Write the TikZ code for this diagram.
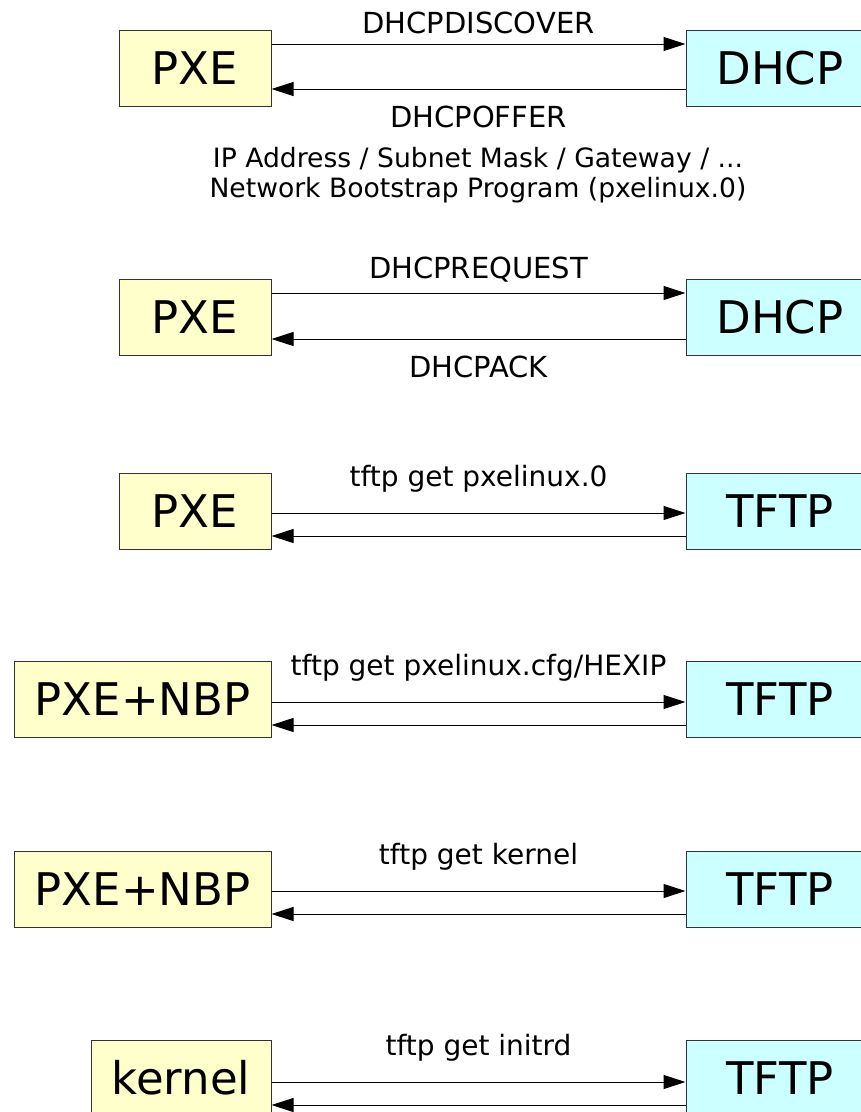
\documentclass[tikz,border=0pt]{standalone}
\usepackage{fontspec}
\setmainfont{DejaVu Sans}
\usetikzlibrary{arrows.meta}
\definecolor{cliyel}{HTML}{FFFFCC}
\definecolor{srvcyan}{HTML}{CCFFFF}
\definecolor{boxedge}{HTML}{333333}
\tikzset{
  boxbase/.style={draw=boxedge, line width=1pt, minimum height=76pt, inner sep=0pt,
    font=\fontsize{45}{54}\selectfont},
  client/.style={boxbase, fill=cliyel},
  server/.style={boxbase, fill=srvcyan, minimum width=188pt},
  msg/.style={line width=1pt, -{Triangle[length=22pt,width=14pt]}},
  lbl/.style={font=\fontsize{28}{30}\selectfont, inner sep=0pt},
  dlbl/.style={font=\fontsize{29}{30}\selectfont, inner sep=0pt}
}
\begin{document}
\begin{tikzpicture}[x=1pt,y=-1pt]
\useasboundingbox (0,0) rectangle (861,1112);
% row 1
\node[client, minimum width=152pt] (pxe1) at (195,68) {PXE};
\node[server] (dhcp1) at (780,68) {DHCP};
\draw[msg] ([yshift=24pt]pxe1.east) -- ([yshift=24pt]dhcp1.west) node[dlbl, midway, above=10pt] {DHCPDISCOVER};
\draw[msg] ([yshift=-21pt]dhcp1.west) -- ([yshift=-21pt]pxe1.east) node[dlbl, midway, below=16pt] (offer) {DHCPOFFER};
\node[lbl, align=center, font=\fontsize{26.6}{30}\selectfont] (info) at (478,175) {IP Address / Subnet Mask / Gateway / ...\\Network Bootstrap Program (pxelinux.0)};
% row 2
\node[client, minimum width=152pt] (pxe2) at (195,317) {PXE};
\node[server] (dhcp2) at (780,317) {DHCP};
\draw[msg] ([yshift=24pt]pxe2.east) -- ([yshift=24pt]dhcp2.west) node[dlbl, midway, above=10pt] {DHCPREQUEST};
\draw[msg] ([yshift=-22pt]dhcp2.west) -- ([yshift=-22pt]pxe2.east) node[dlbl, midway, below=16pt] {DHCPACK};
% row 3
\node[client, minimum width=152pt] (pxe3) at (195,511) {PXE};
\node[server] (tftp3) at (780,511) {TFTP};
\draw[msg] ([yshift=-2pt]pxe3.east) -- ([yshift=-2pt]tftp3.west) node[lbl, midway, above=20pt] {tftp get pxelinux.0};
\draw[msg] ([yshift=-25pt]tftp3.west) -- ([yshift=-25pt]pxe3.east);
% row 4
\node[client, minimum width=257pt] (nbp4) at (142.5,699) {PXE+NBP};
\node[server] (tftp4) at (780,699) {TFTP};
\draw[msg] ([yshift=-3pt]nbp4.east) -- ([yshift=-3pt]tftp4.west) node[lbl, midway, above=20pt] {tftp get pxelinux.cfg/HEXIP};
\draw[msg] ([yshift=-26pt]tftp4.west) -- ([yshift=-26pt]nbp4.east);
% row 5
\node[client, minimum width=257pt] (nbp5) at (142.5,889) {PXE+NBP};
\node[server] (tftp5) at (780,889) {TFTP};
\draw[msg] ([yshift=-2pt]nbp5.east) -- ([yshift=-2pt]tftp5.west) node[lbl, midway, above=20pt] {tftp get kernel};
\draw[msg] ([yshift=-25pt]tftp5.west) -- ([yshift=-25pt]nbp5.east);
% row 6
\node[client, minimum width=180pt] (kern6) at (181,1078) {kernel};
\node[server] (tftp6) at (780,1078) {TFTP};
\draw[msg] ([yshift=-4pt]kern6.east) -- ([yshift=-4pt]tftp6.west) node[lbl, midway, above=20pt] {tftp get initrd};
\draw[msg] ([yshift=-27pt]tftp6.west) -- ([yshift=-27pt]kern6.east);
\end{tikzpicture}
\end{document}
